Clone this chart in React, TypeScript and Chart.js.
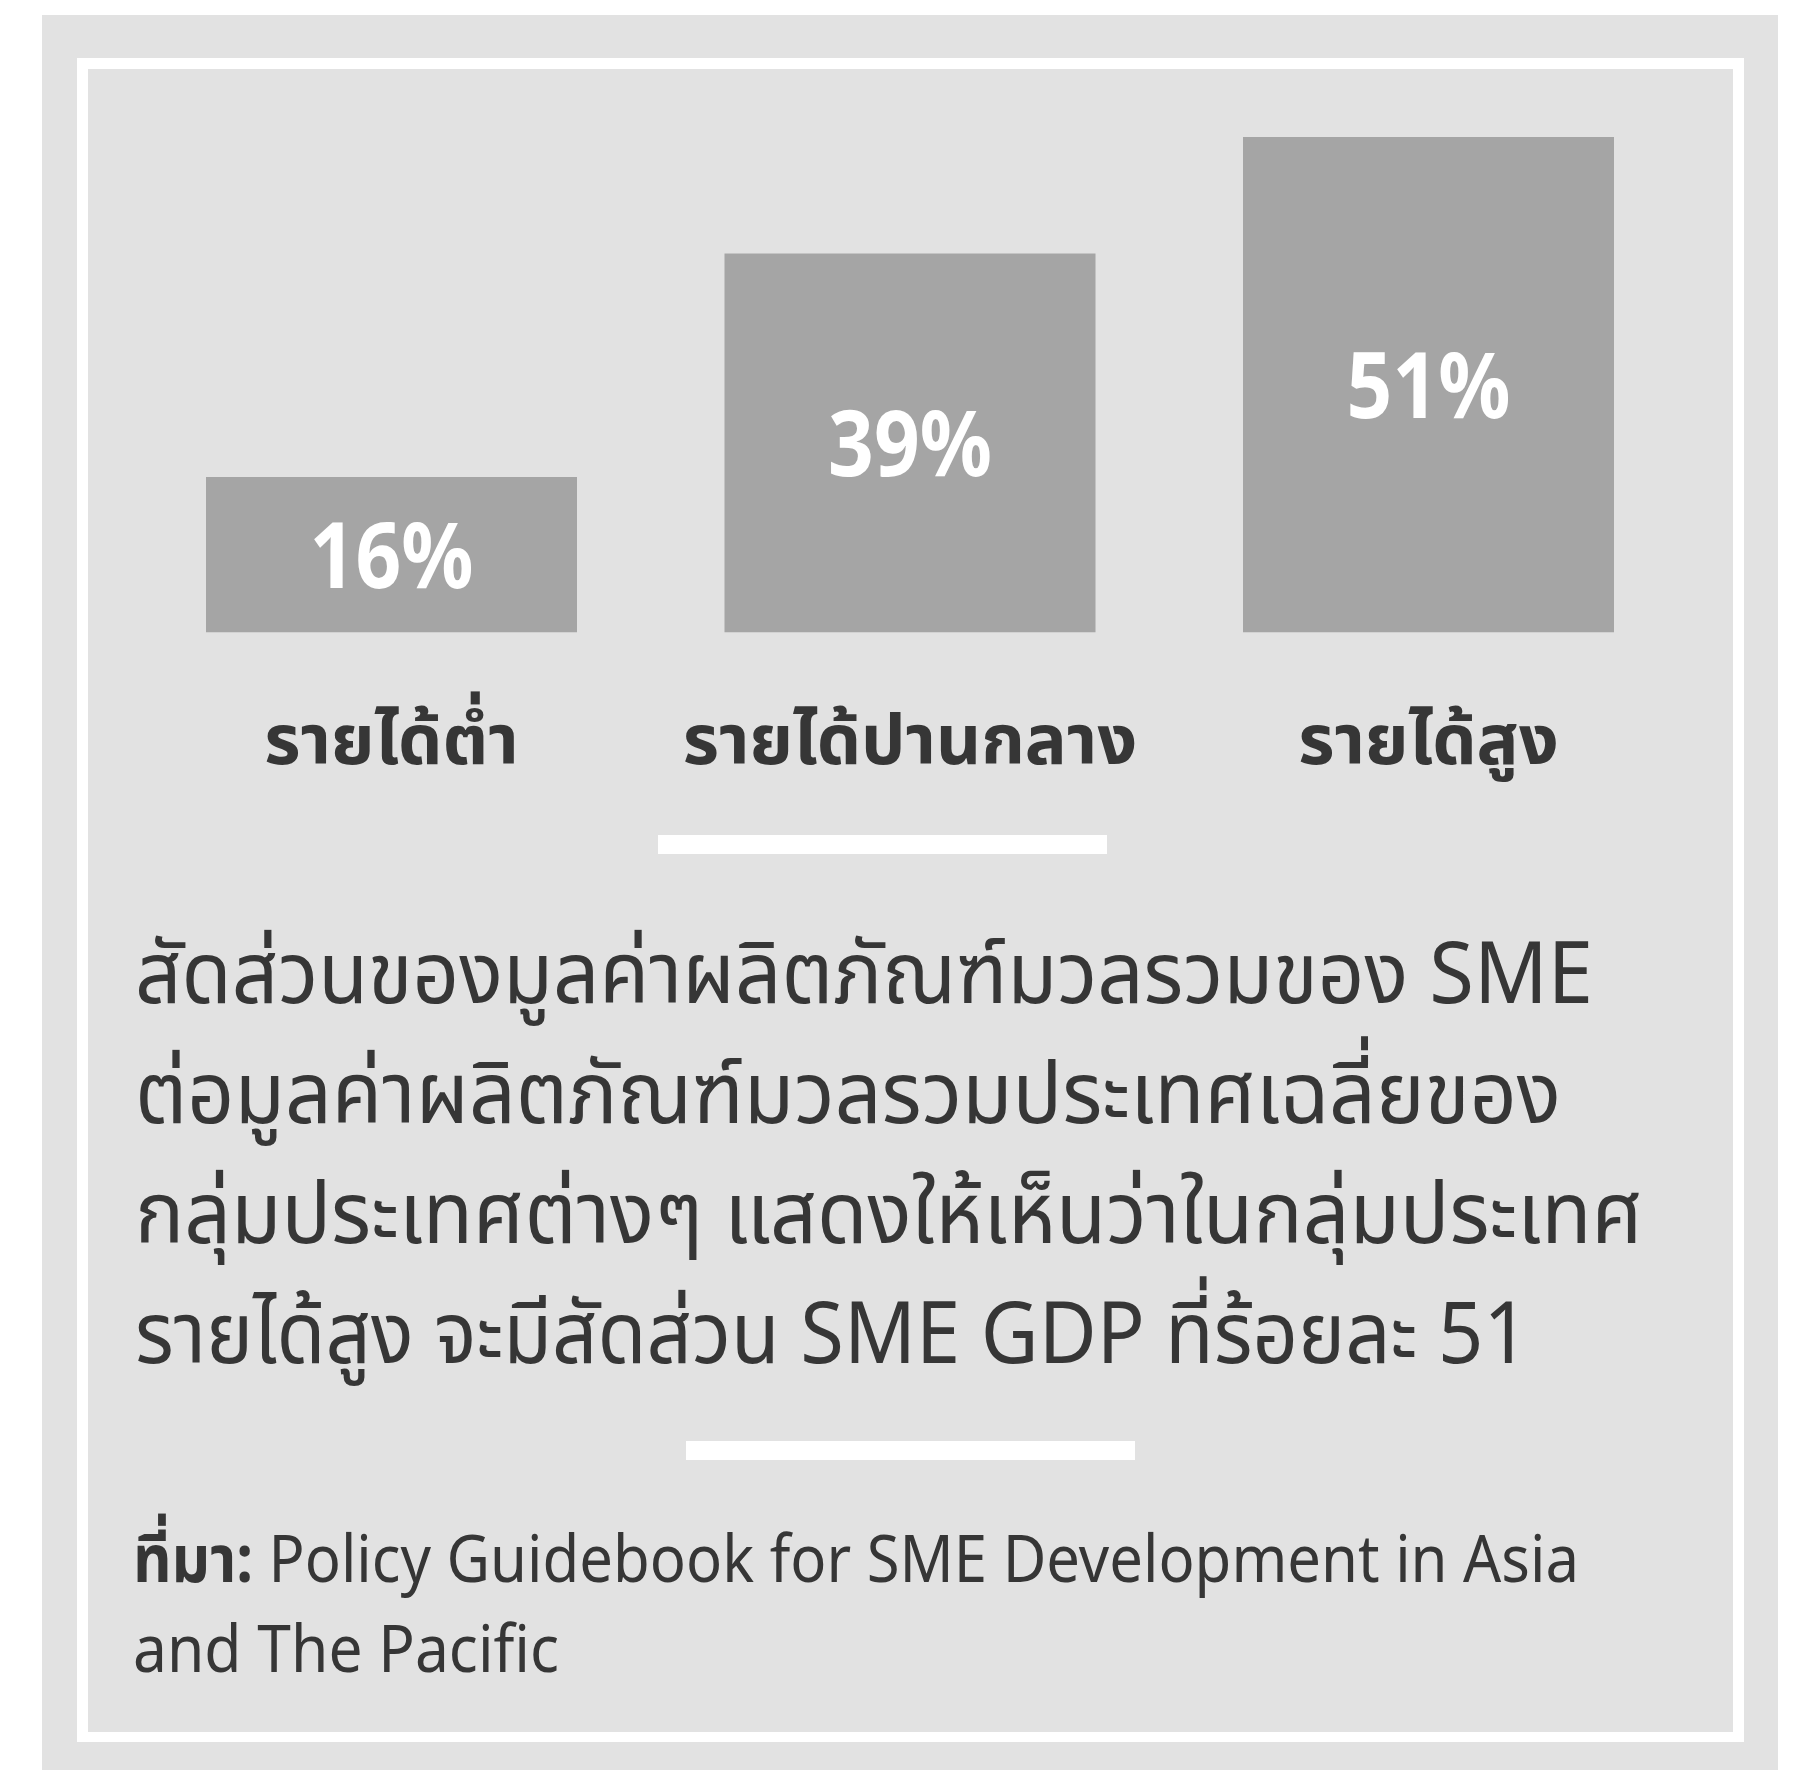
import React, { useEffect, useLayoutEffect, useRef } from "react";
import { Chart, registerables } from "chart.js";

Chart.register(...registerables);

// ---------- data ----------
const categories = ["รายได้ต่ำ", "รายได้ปานกลาง", "รายได้สูง"];
const smeGdpShare = [16, 39, 51];
const valueLabels = ["16%", "39%", "51%"];

const paragraphLines = [
  "สัดส่วนของมูลค่าผลิตภัณฑ์มวลรวมของ SME",
  "ต่อมูลค่าผลิตภัณฑ์มวลรวมประเทศเฉลี่ยของ",
  "กลุ่มประเทศต่างๆ แสดงให้เห็นว่าในกลุ่มประเทศ",
  "รายได้สูง จะมีสัดส่วน SME GDP ที่ร้อยละ 51",
];
const sourceLabel = "ที่มา:";
const sourceLines = [
  " Policy Guidebook for SME Development in Asia",
  "and The Pacific",
];

// ---------- styling ----------
const FONT = "'Noto Sans', 'Noto Sans Thai', 'DejaVu Sans', sans-serif";
const TEXT = "#363636";
const PANEL = "#e2e2e2";
const BAR = "#a5a5a5";

const paraWidths = [1458, 1426, 1508, 1394];
const sourceWidths = [1446, 426];

function FitLine(props: {
  top: number;
  left: number;
  width: number;
  size: number;
  children: React.ReactNode;
  weight?: number;
}) {
  const ref = useRef<HTMLSpanElement>(null);
  const fit = () => {
    const el = ref.current;
    if (!el) return;
    el.style.transform = "none";
    const w = el.getBoundingClientRect().width;
    if (w > 0) el.style.transform = `scaleX(${props.width / w})`;
  };
  useLayoutEffect(() => {
    fit();
    if ((document as any).fonts && (document as any).fonts.ready) {
      (document as any).fonts.ready.then(fit);
    }
  });
  return (
    <div
      style={{
        position: "absolute",
        left: props.left,
        top: props.top - 0.888 * props.size,
        whiteSpace: "nowrap",
        fontFamily: FONT,
        fontSize: props.size,
        lineHeight: 1,
        color: TEXT,
        fontWeight: props.weight ?? 400,
      }}
    >
      <span
        ref={ref}
        style={{ display: "inline-block", transformOrigin: "0 0" }}
      >
        {props.children}
      </span>
    </div>
  );
}

function BarChart() {
  const canvasRef = useRef<HTMLCanvasElement>(null);
  useEffect(() => {
    const canvas = canvasRef.current;
    if (!canvas) return;
    const valueLabelPlugin = {
      id: "valueLabels",
      afterDatasetsDraw(chart: any) {
        const ctx = chart.ctx;
        const meta = chart.getDatasetMeta(0);
        meta.data.forEach((bar: any, i: number) => {
          const cy = (bar.y + bar.base) / 2;
          ctx.save();
          ctx.fillStyle = "#ffffff";
          ctx.font = `700 92px ${FONT}`;
          ctx.textAlign = "center";
          ctx.textBaseline = "alphabetic";
          ctx.translate(bar.x, cy + 33);
          ctx.scale(0.87, 1);
          ctx.fillText(valueLabels[i], 0, 0);
          ctx.restore();
        });
      },
    };
    const chart = new Chart(canvas, {
      type: "bar",
      data: {
        labels: categories,
        datasets: [
          {
            data: smeGdpShare,
            backgroundColor: BAR,
            borderWidth: 0,
            barPercentage: 0.7155,
            categoryPercentage: 1,
          },
        ],
      },
      options: {
        animation: false,
        responsive: false,
        devicePixelRatio: 1,
        layout: {
          padding: { left: 44.25, right: 45.25, top: 29, bottom: 32.8 },
        },
        plugins: {
          legend: { display: false },
          tooltip: { enabled: false },
          title: { display: false },
        },
        scales: {
          x: {
            grid: { display: false, drawTicks: false },
            border: { display: false },
            ticks: {
              color: TEXT,
              padding: 76.8,
              maxRotation: 0,
              autoSkip: false,
              font: { family: FONT, size: 70, weight: "bold", lineHeight: 1 },
            },
          },
          y: {
            display: false,
            min: 0,
            max: 55,
          },
        },
      },
      plugins: [valueLabelPlugin],
    });
    return () => chart.destroy();
  }, []);
  return (
    <canvas
      ref={canvasRef}
      width={1645}
      height={820}
      style={{ position: "absolute", left: 88, top: 69, width: 1645, height: 820 }}
    />
  );
}

export default function App() {
  return (
    <div style={{ position: "absolute", left: 0, top: 0, width: 1793, height: 1770 }}>
      <div style={{ position: "absolute", left: 42, top: 15, width: 1736, height: 1755, background: PANEL }} />
      <div style={{ position: "absolute", left: 77, top: 58, width: 1667, height: 1684, background: "#ffffff" }} />
      <div style={{ position: "absolute", left: 88, top: 69, width: 1645, height: 1663, background: PANEL }} />
      <div style={{ position: "absolute", left: 658, top: 835, width: 449, height: 19, background: "#ffffff" }} />
      <div style={{ position: "absolute", left: 686, top: 1441, width: 449, height: 19, background: "#ffffff" }} />
      <BarChart />
      {paragraphLines.map((line, i) => (
        <FitLine key={i} left={135} top={1003 + i * 120} width={paraWidths[i]} size={86}>
          {line}
        </FitLine>
      ))}
      <FitLine left={133} top={1582} width={sourceWidths[0]} size={66}>
        <b>{sourceLabel}</b>
        {sourceLines[0]}
      </FitLine>
      <FitLine left={133} top={1672} width={sourceWidths[1]} size={66}>
        {sourceLines[1]}
      </FitLine>
    </div>
  );
}
